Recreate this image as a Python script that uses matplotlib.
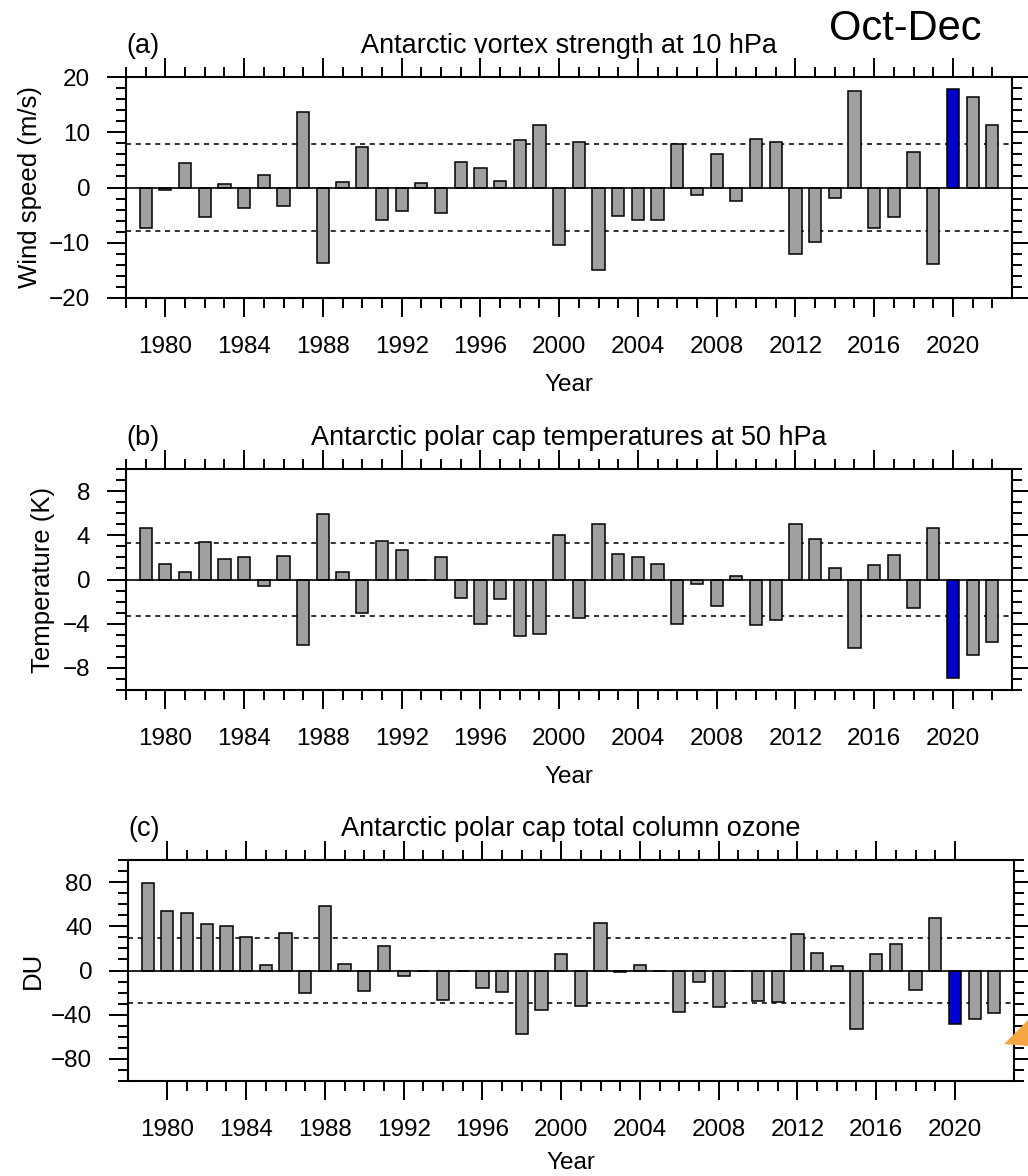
import matplotlib
matplotlib.use("Agg")
import matplotlib.pyplot as plt
from matplotlib.ticker import MultipleLocator, FixedLocator
from matplotlib.patches import Polygon

plt.rcParams['font.family'] = ['Liberation Sans', 'DejaVu Sans']

# ---- data ----
years = list(range(1979, 2023))

vortex = [-7.4, -0.5, 4.4, -5.4, 0.7, -3.8, 2.2, -3.4, 13.7, -13.6,
          1.0, 7.3, -5.9, -4.2, 0.9, -4.7, 4.7, 3.5, 1.2, 8.6,
          11.3, -10.4, 8.3, -15.0, -5.1, -5.9, -5.9, 7.9, -1.4, 6.1,
          -2.4, 8.8, 8.3, -12.1, -9.9, -1.9, 17.4, -7.3, -5.4, 6.4,
          -13.9, 17.8, 16.4, 11.4]

temperature = [4.7, 1.4, 0.7, 3.4, 1.9, 2.0, -0.6, 2.1, -5.9, 5.9,
               0.7, -3.0, 3.5, 2.7, -0.05, 2.0, -1.7, -4.0, -1.8, -5.1,
               -4.9, 4.0, -3.5, 5.0, 2.3, 2.0, 1.4, -4.0, -0.4, -2.4,
               0.3, -4.1, -3.7, 5.0, 3.7, 1.0, -6.2, 1.3, 2.2, -2.6,
               4.7, -8.9, -6.8, -5.7]

ozone = [78.8, 53.8, 52.0, 41.8, 40.0, 30.1, 4.8, 34.0, -20.8, 58.6,
         6.0, -18.3, 22.0, -5.4, -0.6, -26.5, 0.0, -16.0, -19.2, -57.4,
         -36.1, 15.0, -31.9, 42.7, -1.5, 4.8, -0.5, -37.3, -10.5, -32.8,
         -0.3, -27.4, -28.6, 33.1, 15.9, 4.5, -52.6, 14.7, 23.8, -17.7,
         47.2, -48.1, -44.2, -38.2]

# one standard deviation lines
std_vortex = 7.8
std_temperature = 3.3
std_ozone = 29.5

highlight_year = 2020
panel_tags = ['(a)', '(b)', '(c)']
titles = ['Antarctic vortex strength at 10 hPa',
          'Antarctic polar cap temperatures at 50 hPa',
          'Antarctic polar cap total column ozone']
ylabels = ['Wind speed (m/s)', 'Temperature (K)', 'DU']

W, H = 1028, 1176
fig = plt.figure(figsize=(W / 100, H / 100), dpi=100)


def px_axes(left, right, top, bottom):
    return fig.add_axes([left / W, 1 - bottom / H, (right - left) / W, (bottom - top) / H])


def draw_panel(ax, values, std, ylim, major, minor, xminor, tag, title, ylabel, ylab_px, year_px=93):
    colors = ['#0000cc' if y == highlight_year else '#a0a0a0' for y in years]
    ax.bar(years, values, width=0.62, color=colors, edgecolor='black', linewidth=1.1, zorder=3)
    ax.axhline(0, color='black', lw=1.2, zorder=4)
    for s in (std, -std):
        ax.axhline(s, color='#222222', lw=1.3, linestyle=(0, (2.8, 2.6)), zorder=2)

    ax.set_xlim(1978, 2023)
    ax.set_ylim(ylim)
    ax.xaxis.set_major_locator(FixedLocator(range(1980, 2021, 4)))
    ax.xaxis.set_minor_locator(FixedLocator(xminor))
    ax.yaxis.set_major_locator(MultipleLocator(major))
    ax.yaxis.set_minor_locator(MultipleLocator(minor))

    ax.tick_params(which='both', direction='out', top=True, right=True,
                   labeltop=False, labelright=False, width=1.4, labelsize=17.5)
    ax.tick_params(which='major', length=13.7)
    ax.tick_params(which='minor', length=7.2)
    ax.tick_params(axis='x', which='major', pad=14)
    ax.tick_params(axis='y', which='major', pad=12)
    for sp in ax.spines.values():
        sp.set_linewidth(1.5)

    h_px = ax.get_position().height * H
    w_px = ax.get_position().width * W
    ax.text(0, 1 + 24 / h_px, tag, transform=ax.transAxes, ha='left', va='baseline', fontsize=19.5)
    ax.text(0.5, 1 + 24 / h_px, title, transform=ax.transAxes, ha='center', va='baseline', fontsize=19.5)
    ax.text(0.5, -year_px / h_px, 'Year', transform=ax.transAxes, ha='center', va='baseline', fontsize=17.5)
    ax.text(ylab_px / w_px, 0.5, ylabel, transform=ax.transAxes, rotation=90,
            rotation_mode='anchor', ha='center', va='baseline', fontsize=18.5)


minor_full = [y for y in range(1978, 2023) if (y - 1980) % 4 != 0]
minor_c = [y for y in range(1981, 2020) if (y - 1980) % 4 != 0]

ax_a = px_axes(126, 1012, 77, 298)
draw_panel(ax_a, vortex, std_vortex, (-20, 20), 10, 2, minor_full,
           panel_tags[0], titles[0], ylabels[0], 37 - 126)

ax_b = px_axes(126, 1012, 469, 690)
draw_panel(ax_b, temperature, std_temperature, (-10, 10), 4, 1, minor_full,
           panel_tags[1], titles[1], ylabels[1], 50 - 126)

ax_c = px_axes(128, 1014, 860, 1081)
draw_panel(ax_c, ozone, std_ozone, (-100, 100), 40, 10, minor_c,
           panel_tags[2], titles[2], ylabels[2], 40 - 128, year_px=88)

fig.text(905 / W, 1 - 40 / H, 'Oct-Dec', ha='center', va='baseline', fontsize=30)

# cropped orange arrow head at the lower right edge
tri = Polygon([[1004 / W, 1 - 1044 / H], [1028 / W, 1 - 1020 / H], [1028 / W, 1 - 1046 / H]],
              closed=True, transform=fig.transFigure, facecolor='#f6a543', edgecolor='none', zorder=10)
fig.patches.append(tri)

fig.savefig('out.png', dpi=100)
